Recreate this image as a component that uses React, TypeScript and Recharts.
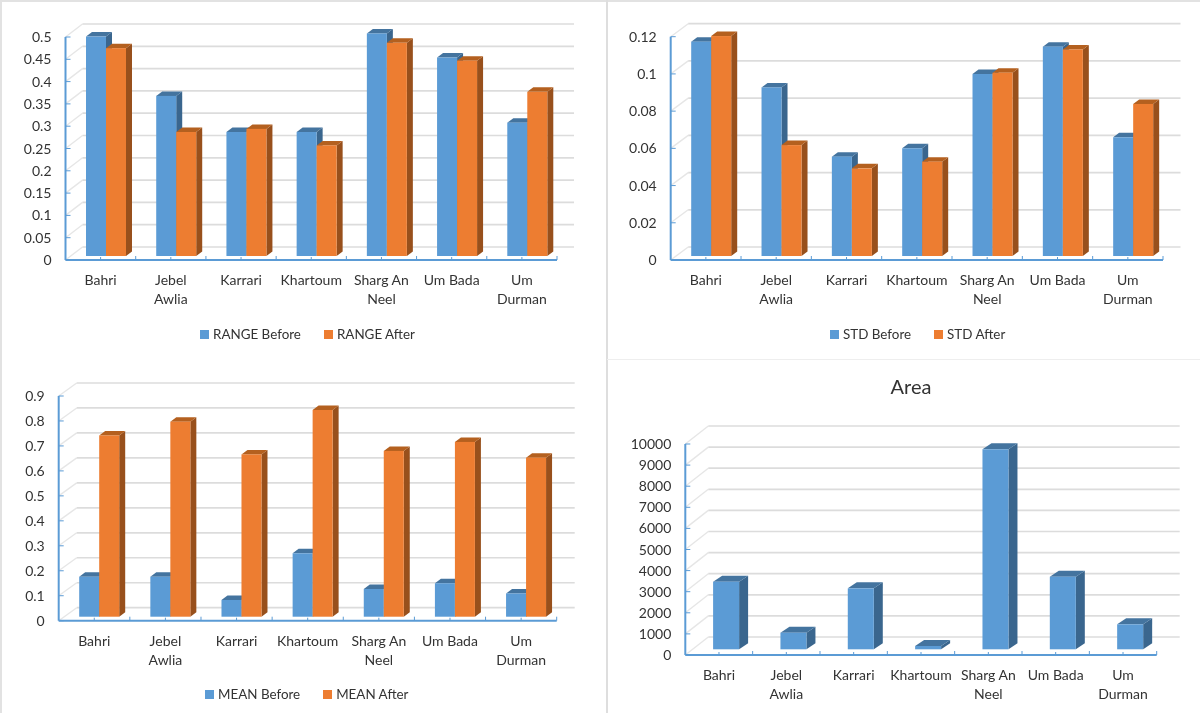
import { BarChart, Bar, XAxis, YAxis, CartesianGrid, Legend } from 'recharts';

const categories = ['Bahri', 'Jebel Awlia', 'Karrari', 'Khartoum', 'Sharg An Neel', 'Um Bada', 'Um Durman'];

const rangeBefore = [0.492, 0.359, 0.278, 0.278, 0.499, 0.445, 0.299];
const rangeAfter = [0.466, 0.278, 0.285, 0.248, 0.478, 0.438, 0.368];
const rangeTicks = [0, 0.05, 0.1, 0.15, 0.2, 0.25, 0.3, 0.35, 0.4, 0.45, 0.5];

const stdBefore = [0.1152, 0.0906, 0.0534, 0.0579, 0.0978, 0.1125, 0.0638];
const stdAfter = [0.1182, 0.0596, 0.0471, 0.0507, 0.0985, 0.111, 0.0817];
const stdTicks = [0, 0.02, 0.04, 0.06, 0.08, 0.1, 0.12];

const meanBefore = [0.16, 0.16, 0.067, 0.254, 0.111, 0.134, 0.093];
const meanAfter = [0.726, 0.781, 0.65, 0.828, 0.664, 0.7, 0.637];
const meanTicks = [0, 0.1, 0.2, 0.3, 0.4, 0.5, 0.6, 0.7, 0.8, 0.9];

const areaValues = [3204, 787, 2890, 156, 9479, 3441, 1185];
const areaTicks = [0, 1000, 2000, 3000, 4000, 5000, 6000, 7000, 8000, 9000, 10000];

const wrappedLabels: Record<string, string[]> = {
    'Jebel Awlia': ['Jebel', 'Awlia'],
    'Sharg An Neel': ['Sharg An', 'Neel'],
    'Um Durman': ['Um', 'Durman'],
};

const FONT = 'Lato, sans-serif';
const TEXT = '#333333';
const AXIS = '#5b9bd5';
const BLUE = { front: '#5b9bd5', top: '#44749f', side: '#3a668e' };
const ORANGE = { front: '#ed7d31', top: '#b4601f', side: '#98501c' };

function bar3d(shift: number, lift: number, depth: number, rise: number, colors: typeof BLUE) {
    return (props: any) => {
        const x = props.x + shift;
        const y = props.y - lift;
        const w = props.width;
        const h = props.height;
        return (
            <g>
                <polygon
                    points={`${x + w},${y} ${x + w + depth},${y - rise} ${x + w + depth},${y + h - rise} ${x + w},${y + h}`}
                    fill={colors.side}
                />
                <polygon
                    points={`${x},${y} ${x + depth},${y - rise} ${x + w + depth},${y - rise} ${x + w},${y}`}
                    fill={colors.top}
                />
                <rect x={x} y={y} width={w} height={h} fill={colors.front} />
            </g>
        );
    };
}

interface SeriesDef {
    name: string;
    values: number[];
    colors: typeof BLUE;
}

interface PanelProps {
    box: { left: number; top: number; width: number; height: number };
    plot: { left: number; right: number; top: number; bottom: number };
    wall: { dx: number; dy: number };
    bars: { size: number; shift: number; lift: number; depth: number; rise: number };
    ticks: number[];
    series: SeriesDef[];
    legend?: { left: number; top: number; gap: number };
}

function Panel3D({ box, plot, wall, bars, ticks, series, legend }: PanelProps) {
    const rows = categories.map((name, i) => {
        const row: Record<string, string | number> = { name };
        series.forEach((s) => {
            row[s.name] = s.values[i];
        });
        return row;
    });
    const band = (plot.right - plot.left) / categories.length;
    const yWidth = 30;
    const xHeight = 50;

    return (
        <div style={{ position: 'absolute', left: box.left, top: box.top }}>
            <BarChart
                width={box.width}
                height={box.height}
                data={rows}
                barSize={bars.size}
                barGap={0}
                margin={{
                    left: plot.left - box.left - yWidth,
                    right: box.left + box.width - plot.right,
                    top: plot.top - box.top,
                    bottom: box.top + box.height - plot.bottom - xHeight,
                }}
            >
                <CartesianGrid
                    vertical={false}
                    horizontal={(p: any) => (
                        <g key={p.key}>
                            <line
                                x1={p.x1}
                                y1={p.y1}
                                x2={p.x1 + wall.dx}
                                y2={p.y1 - wall.dy}
                                stroke="#e6e6e6"
                                strokeWidth={1.4}
                            />
                            <line
                                x1={p.x1 + wall.dx}
                                y1={p.y1 - wall.dy}
                                x2={p.x2 + wall.dx}
                                y2={p.y1 - wall.dy}
                                stroke="#dcdcdc"
                                strokeWidth={1.7}
                            />
                        </g>
                    )}
                />
                <XAxis
                    dataKey="name"
                    interval={0}
                    height={xHeight}
                    tickSize={0}
                    tickMargin={0}
                    axisLine={{ stroke: AXIS, strokeWidth: 2 }}
                    tick={(p: any) => {
                        const lines = wrappedLabels[p.payload.value] || [p.payload.value];
                        return (
                            <g>
                                <line x1={p.x} y1={p.y} x2={p.x} y2={p.y - 3} stroke={AXIS} />
                                <line x1={p.x + band / 2} y1={p.y} x2={p.x + band / 2} y2={p.y - 4} stroke={AXIS} />
                                {lines.map((line: string, i: number) => (
                                    <text
                                        key={line}
                                        x={p.x}
                                        y={p.y + 25 + i * 19}
                                        textAnchor="middle"
                                        fontFamily={FONT}
                                        fontSize={14}
                                        fill={TEXT}
                                    >
                                        {line}
                                    </text>
                                ))}
                            </g>
                        );
                    }}
                />
                <YAxis
                    width={yWidth}
                    domain={[0, ticks[ticks.length - 1]]}
                    ticks={ticks}
                    interval={0}
                    tickSize={0}
                    tickMargin={0}
                    axisLine={{ stroke: AXIS, strokeWidth: 2 }}
                    tick={(p: any) => (
                        <g>
                            <line x1={p.x} y1={p.y} x2={p.x + 5} y2={p.y} stroke={AXIS} />
                            <text
                                x={p.x - 14}
                                y={p.y + 5}
                                textAnchor="end"
                                fontFamily={FONT}
                                fontSize={14}
                                fill={TEXT}
                            >
                                {p.payload.value}
                            </text>
                        </g>
                    )}
                />
                {series.map((s) => (
                    <Bar
                        key={s.name}
                        dataKey={s.name}
                        fill={s.colors.front}
                        isAnimationActive={false}
                        shape={bar3d(bars.shift, bars.lift, bars.depth, bars.rise, s.colors)}
                    />
                ))}
                {legend && (
                    <Legend
                        layout="vertical"
                        align="center"
                        verticalAlign="middle"
                        itemSorter={null}
                        wrapperStyle={{
                            left: legend.left - box.left,
                            top: legend.top - box.top,
                            width: 320,
                        }}
                        content={(p: any) => (
                            <div style={{ display: 'flex', gap: legend.gap, fontFamily: FONT, fontSize: 13.4, color: TEXT }}>
                                {series.map((s) => {
                                    const entry = p.payload.find((e: any) => e.value === s.name);
                                    return (
                                        <div key={s.name} style={{ display: 'flex', alignItems: 'center', gap: 4 }}>
                                            <span style={{ width: 9, height: 9, background: entry?.color, display: 'block' }} />
                                            <span>{s.name}</span>
                                        </div>
                                    );
                                })}
                            </div>
                        )}
                    />
                )}
            </BarChart>
        </div>
    );
}

const smallBars = { size: 20, shift: 5.5, lift: 4, depth: 6, rise: 4.5 };

export default function App() {
    return (
        <div
            style={{
                position: 'absolute',
                left: 0,
                top: 0,
                width: 1200,
                height: 713,
                background: '#fff',
                overflow: 'hidden',
                filter: 'blur(0.5px)',
            }}
        >
            <div style={{ position: 'absolute', left: 0, top: 0, width: 2, height: 713, background: '#e2e2e2' }} />
            <div style={{ position: 'absolute', left: 0, top: 0, width: 1200, height: 1.5, background: '#e2e2e2' }} />
            <div style={{ position: 'absolute', left: 605.5, top: 0, width: 2, height: 713, background: '#dedede' }} />
            <div style={{ position: 'absolute', left: 607, top: 359, width: 593, height: 1, background: '#eeeeee' }} />

            <Panel3D
                box={{ left: 2, top: 2, width: 600, height: 350 }}
                plot={{ left: 65.5, right: 557, top: 37, bottom: 260 }}
                wall={{ dx: 17, dy: 13 }}
                bars={smallBars}
                ticks={rangeTicks}
                series={[
                    { name: 'RANGE Before', values: rangeBefore, colors: BLUE },
                    { name: 'RANGE After', values: rangeAfter, colors: ORANGE },
                ]}
                legend={{ left: 200, top: 326, gap: 23 }}
            />
            <Panel3D
                box={{ left: 608, top: 2, width: 590, height: 352 }}
                plot={{ left: 670.7, right: 1163, top: 36.7, bottom: 260 }}
                wall={{ dx: 17.5, dy: 13 }}
                bars={smallBars}
                ticks={stdTicks}
                series={[
                    { name: 'STD Before', values: stdBefore, colors: BLUE },
                    { name: 'STD After', values: stdAfter, colors: ORANGE },
                ]}
                legend={{ left: 830, top: 326, gap: 23 }}
            />
            <Panel3D
                box={{ left: 2, top: 360, width: 600, height: 353 }}
                plot={{ left: 58.7, right: 556.7, top: 396, bottom: 620.7 }}
                wall={{ dx: 18, dy: 13 }}
                bars={{ size: 20, shift: 4.5, lift: 4, depth: 6, rise: 4.5 }}
                ticks={meanTicks}
                series={[
                    { name: 'MEAN Before', values: meanBefore, colors: BLUE },
                    { name: 'MEAN After', values: meanAfter, colors: ORANGE },
                ]}
                legend={{ left: 205, top: 686, gap: 23 }}
            />
            <Panel3D
                box={{ left: 608, top: 362, width: 590, height: 351 }}
                plot={{ left: 685.3, right: 1156.7, top: 444, bottom: 655 }}
                wall={{ dx: 23, dy: 18 }}
                bars={{ size: 26, shift: 6.8, lift: 5.7, depth: 9, rise: 6 }}
                ticks={areaTicks}
                series={[{ name: 'Area', values: areaValues, colors: BLUE }]}
            />
            <div
                style={{
                    position: 'absolute',
                    left: 811,
                    top: 374,
                    width: 200,
                    textAlign: 'center',
                    fontFamily: FONT,
                    fontSize: 20,
                    color: '#333',
                }}
            >
                Area
            </div>
        </div>
    );
}
